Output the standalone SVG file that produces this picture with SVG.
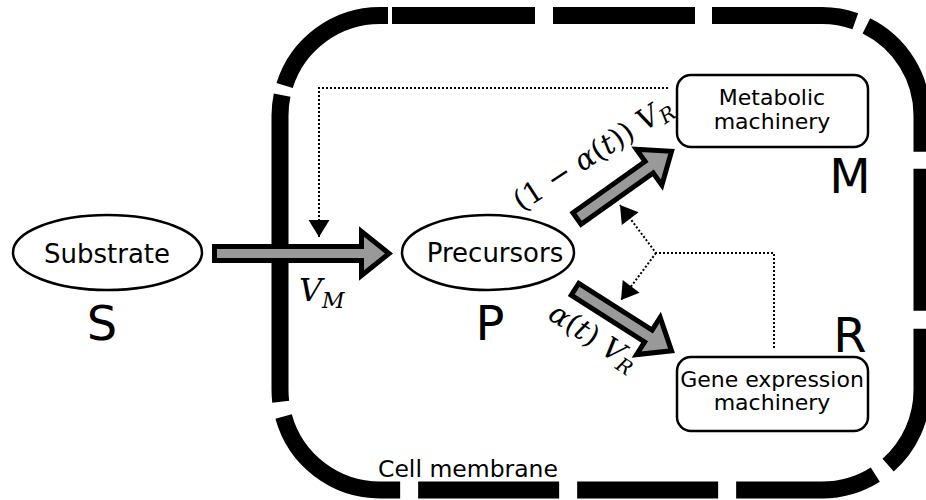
<svg xmlns="http://www.w3.org/2000/svg" width="926" height="500" viewBox="0 0 926 500">
<style>
.lbl{font-family:"DejaVu Sans","Liberation Sans",sans-serif;fill:#000}
.big{font-family:"DejaVu Sans","Liberation Sans",sans-serif;font-size:48px;fill:#000;text-anchor:middle}
.math{font-family:"DejaVu Serif","Liberation Serif",serif;fill:#000}
.it{font-style:italic}
.node{fill:#fff;stroke:#000;stroke-width:2.5}
.flux{fill:#999;stroke:#000;stroke-width:5;stroke-linejoin:miter;stroke-miterlimit:10}
.dot{fill:none;stroke:#000;stroke-width:2;stroke-dasharray:2 2}
</style>
<defs>
<marker id="ah" markerUnits="userSpaceOnUse" markerWidth="20" markerHeight="24" viewBox="0 -12 18 24" refX="17" refY="0" orient="auto">
<path d="M0,-10.5 L17,0 L0,10.5 Z" fill="#000"/>
</marker>
</defs>
<rect width="926" height="500" fill="#fff"/>
<g id="membrane">
<path d="M380,15.5 H822 A100,100 0 0 1 922,115.5 V390 A100,100 0 0 1 822,490 H380 A100,100 0 0 1 280,390 V115.5 A100,100 0 0 1 380,15.5 Z" fill="none" stroke="#000" stroke-width="17" stroke-dasharray="8 4 143 18 142 17 144 12 147 17 142 18 146 16 142 18 141 18 141 18 150 15 307 10 127.3"/>
<text class="lbl" x="378" y="477" font-size="23.5">Cell membrane</text>
</g>
<g id="connectors">
<polyline class="dot" points="668,88 319,88 319,237" marker-end="url(#ah)"/>
<polyline class="dot" points="774,348 774,253 656,253 620,205" marker-end="url(#ah)"/>
<polyline class="dot" points="656,253 621,300" marker-end="url(#ah)"/>
<g id="vm">
<path class="flux" transform="translate(214.5,253.5)" d="M0,-7 H147 V-22 L174.5,0 L147,22 V7 H0 Z"/>
<text class="math it" x="299" y="301" font-size="32">V<tspan font-size="22" dy="7">M</tspan></text>
</g>
<g id="vr-metabolic">
<path class="flux" transform="translate(577,218.5) rotate(-35.4)" d="M0,-7 H88.5 V-22 L116,0 L88.5,22 V7 H0 Z"/>
<text class="math" transform="translate(598,162) rotate(-33)" text-anchor="middle" font-size="29">(1 − <tspan class="it">α</tspan>(<tspan class="it">t</tspan>)) <tspan class="it">V</tspan><tspan class="it" font-size="20" dy="5">R</tspan></text>
</g>
<g id="vr-gene">
<path class="flux" transform="translate(575,289.3) rotate(32.5)" d="M0,-7 H87 V-22 L114.5,0 L87,22 V7 H0 Z"/>
<text class="math" transform="translate(588,345) rotate(33)" text-anchor="middle" font-size="29"><tspan class="it">α</tspan>(<tspan class="it">t</tspan>) <tspan class="it">V</tspan><tspan class="it" font-size="20" dy="5">R</tspan></text>
</g>
</g>
<g id="substrate">
<ellipse class="node" cx="107.5" cy="252.5" rx="94.5" ry="37.5"/>
<text class="lbl" x="107" y="263" font-size="26" text-anchor="middle">Substrate</text>
<text class="big" x="102" y="340">S</text>
</g>
<g id="precursors">
<ellipse class="node" cx="488" cy="252.5" rx="86" ry="37.5"/>
<text class="lbl" x="495" y="262" font-size="26" text-anchor="middle">Precursors</text>
<text class="big" x="490" y="340">P</text>
</g>
<g id="metabolic">
<rect class="node" x="677" y="75" width="191" height="72" rx="14"/>
<text class="lbl" x="772" y="105" font-size="22" text-anchor="middle">Metabolic</text>
<text class="lbl" x="772" y="129" font-size="22" text-anchor="middle">machinery</text>
<text class="big" x="850" y="193">M</text>
</g>
<g id="gene">
<rect class="node" x="677" y="357" width="191" height="74" rx="14"/>
<text class="lbl" x="772" y="387" font-size="22" text-anchor="middle">Gene expression</text>
<text class="lbl" x="772" y="410" font-size="22" text-anchor="middle">machinery</text>
<text class="big" x="850" y="352">R</text>
</g>
</svg>
